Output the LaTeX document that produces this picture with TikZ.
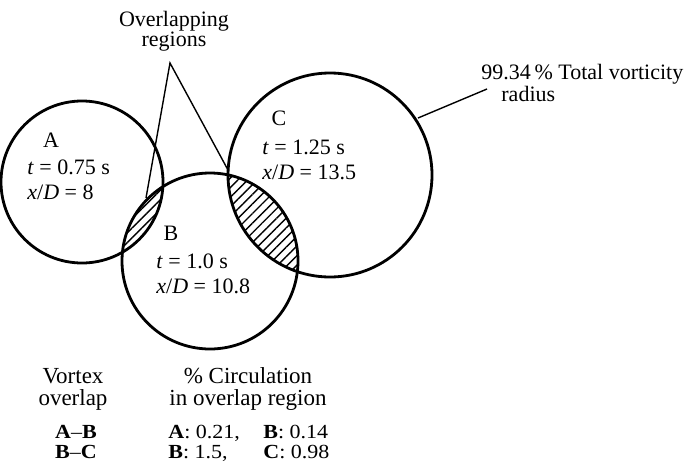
\documentclass[tikz,border=0pt]{standalone}
\usepackage{fontspec}
\setmainfont{Liberation Serif}
\newfontfamily\rowfont[FakeStretch=1.1,Ligatures=TeX]{Liberation Serif}
\usetikzlibrary{patterns.meta,positioning}

\begin{document}
\begin{tikzpicture}[x=0.5pt,y=-0.5pt,
    vortex/.style={line width=1.4pt},
    pointer/.style={line width=0.7pt},
    hatch/.style={pattern={Lines[angle=45,distance=3.4pt,line width=0.7pt]}},
    txt/.style={inner sep=0pt,align=left,font=\fontsize{11}{12.5}\selectfont},
    head/.style={inner sep=0pt,align=center,font=\fontsize{11.5}{11}\selectfont},
    rows/.style={inner sep=0pt,align=left,font=\rowfont\fontsize{10}{10}\selectfont}]
  \useasboundingbox (0,0) rectangle (688,466);
  % vortex centres
  \coordinate (A) at (82,182);
  \coordinate (B) at (210,261);
  \coordinate (C) at (330,175);
  % hatched overlaps
  \begin{scope}
    \clip (A) circle[radius=40.5pt];
    \fill[hatch] (B) circle[radius=44pt];
  \end{scope}
  \begin{scope}
    \clip (C) circle[radius=51pt];
    \fill[hatch] (B) circle[radius=44pt];
  \end{scope}
  \draw[vortex] (A) circle[radius=40.5pt];
  \draw[vortex] (B) circle[radius=44pt];
  \draw[vortex] (C) circle[radius=51pt];

  % vortex labels
  \node[txt] (nameA) at (51,140) {A};
  \node[txt,anchor=west] (dataA) at (27,180) {\textit{t} = 0.75 s\\\textit{x}/\textit{D} = 8};
  \node[txt] (nameB) at (171,233) {B};
  \node[txt,anchor=west] (dataB) at (156,274) {\textit{t} = 1.0 s\\\textit{x}/\textit{D} = 10.8};
  \node[txt] (nameC) at (279,118) {C};
  \node[txt,anchor=west] (dataC) at (262,160) {\textit{t} = 1.25 s\\\textit{x}/\textit{D} = 13.5};

  % overlap pointers
  \node[head,font=\fontsize{11}{10}\selectfont] (ovl) at (174,31) {Overlapping\\regions};
  \coordinate (apex) at (170,63);
  \coordinate (lensAB) at (146,198);
  \coordinate (lensBC) at (228,170);
  \draw[pointer] (lensAB) -- (apex) -- (lensBC);

  % radius pointer
  \node[txt,anchor=north west,font=\fontsize{11}{11}\selectfont] (rad) at (481,64) {99.34\,\% Total vorticity\\\hspace*{10pt}radius};
  \coordinate (radend) at (487,89);
  \coordinate (radC) at (418,118);
  \draw[pointer] (radC) -- (radend);

  % table
  \node[head] (vhead) at (73,389) {Vortex\\overlap};
  \node[head] (chead) at (248,389) {\% Circulation\\in overlap region};
  \node[rows,anchor=north] (pairs) at (76,425) {\textbf{A}--\textbf{B}\\\textbf{B}--\textbf{C}};
  \node[rows,anchor=north west] (first) at (168,425) {\textbf{A}: 0.21,\\\textbf{B}: 1.5,};
  \node[rows,anchor=north west] (second) at (263,425) {\textbf{B}: 0.14\\\textbf{C}: 0.98};
\end{tikzpicture}
\end{document}
